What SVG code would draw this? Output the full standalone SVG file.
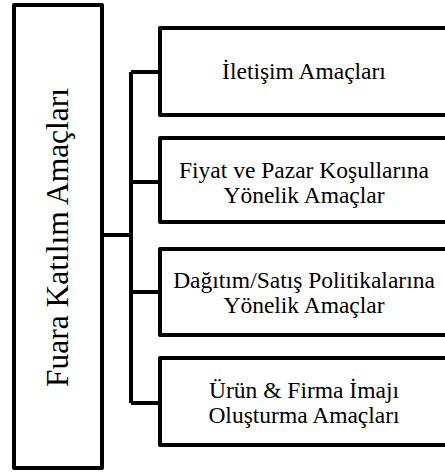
<svg xmlns="http://www.w3.org/2000/svg" width="445" height="473" viewBox="0 0 445 473">
  <style>
    .box { fill: #ffffff; stroke: #000000; stroke-width: 4; stroke-linejoin: round; }
    .link { fill: none; stroke: #000000; stroke-width: 4; stroke-linejoin: round; }
    .label { font-family: "Liberation Serif", "Times New Roman", serif; font-size: 23.5px; fill: #000000; text-anchor: middle; }
    .title { font-family: "Liberation Serif", "Times New Roman", serif; font-size: 31.5px; fill: #000000; text-anchor: middle; }
  </style>
  <rect width="445" height="473" fill="#ffffff"/>

  <!-- tree connectors: root to trunk, trunk to each goal box -->
  <g id="connectors">
    <path class="link" d="M102,235 H131"/>
    <path class="link" d="M131,72 V403"/>
    <path class="link" d="M131,72 H160"/>
    <path class="link" d="M131,182 H160"/>
    <path class="link" d="M131,292 H160"/>
    <path class="link" d="M131,403 H160"/>
  </g>

  <g id="root">
    <rect class="box" x="14" y="5" width="88" height="463"/>
    <text class="title" transform="translate(68,237.5) rotate(-90)">Fuara Katılım Amaçları</text>
  </g>

  <g id="iletisim">
    <rect class="box" x="160" y="28" width="300" height="87"/>
    <text class="label" x="304" y="78.5">İletişim Amaçları</text>
  </g>

  <g id="fiyat">
    <rect class="box" x="160" y="138" width="300" height="84"/>
    <text class="label" x="304" y="177.5">Fiyat ve Pazar Koşullarına</text>
    <text class="label" x="304" y="202.5">Yönelik Amaçlar</text>
  </g>

  <g id="dagitim">
    <rect class="box" x="160" y="249" width="300" height="86"/>
    <text class="label" x="304" y="288">Dağıtım/Satış Politikalarına</text>
    <text class="label" x="304" y="312.5">Yönelik Amaçlar</text>
  </g>

  <g id="imaj">
    <rect class="box" x="160" y="358" width="300" height="87"/>
    <text class="label" x="304" y="397.5">Ürün &amp; Firma İmajı</text>
    <text class="label" x="304" y="422.5">Oluşturma Amaçları</text>
  </g>
</svg>
